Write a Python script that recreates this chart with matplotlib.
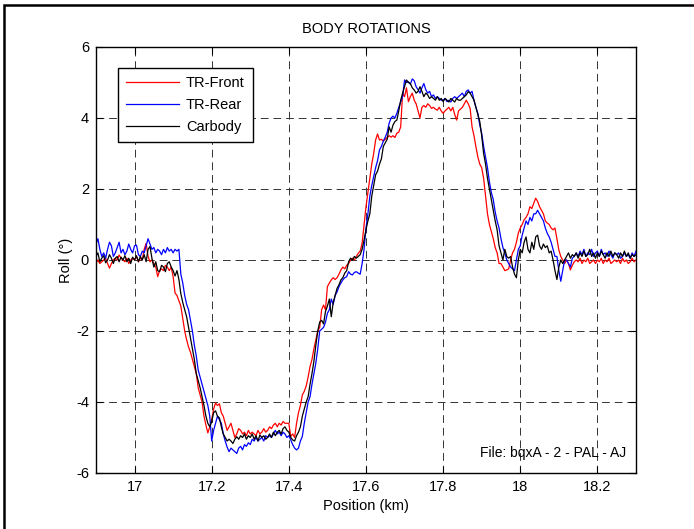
import numpy as np
import matplotlib
matplotlib.use("Agg")
import matplotlib.pyplot as plt
from matplotlib.patches import Rectangle

plt.rcParams['font.family'] = ['Liberation Sans', 'DejaVu Sans']
plt.rcParams['axes.unicode_minus'] = False

# position samples (km), one every 5 m
position = np.linspace(16.9, 18.3, 281)

# roll angles (deg), rows of 10 samples = 50 m
tr_front = [
    -0.1, 0.0, -0.1, -0.05, 0.0, 0.05, -0.1, -0.23, -0.1, 0.0,
    0.05, 0.0, 0.14, 0.05, 0.0, -0.05, 0.05, -0.1, 0.0, 0.05,
    0.0, 0.1, -0.05, 0.05, 0.0, 0.3, 0.47, 0.1, -0.05, 0.0,
    -0.1, -0.2, -0.47, -0.3, -0.25, -0.3, -0.15, -0.2, -0.3, -0.2,
    -0.47, -0.93, -1.0, -1.15, -1.3, -1.65, -2.0, -2.25, -2.45, -2.6,
    -2.8, -3.0, -3.2, -3.6, -3.8, -4.0, -4.4, -4.65, -4.87, -4.7,
    -4.5, -4.2, -4.03, -4.1, -4.05, -4.3, -4.4, -4.6, -4.8, -4.7,
    -4.6, -4.8, -5.0, -4.9, -4.75, -4.8, -4.9, -4.85, -4.95, -4.8,
    -4.9, -4.85, -4.9, -4.95, -4.8, -4.9, -4.85, -4.75, -4.85, -4.8,
    -4.7, -4.75, -4.65, -4.6, -4.7, -4.6, -4.65, -4.55, -4.6, -4.6,
    -4.6, -4.97, -4.9, -5.0, -4.6, -4.3, -4.1, -3.8, -3.7, -3.55,
    -3.3, -3.0, -2.8, -2.5, -2.25, -2.0, -1.9, -1.4, -1.27, -1.4,
    -0.75, -0.65, -0.56, -0.5, -0.55, -0.5, -0.4, -0.28, -0.2, -0.25,
    -0.15, -0.1, 0.0, 0.05, 0.0, 0.1, 0.19, 0.25, 0.47, 1.0,
    1.5, 1.9, 2.3, 2.7, 3.0, 3.38, 3.55, 3.38, 3.4, 3.35,
    3.4, 3.45, 3.5, 3.46, 3.5, 3.45, 3.57, 3.6, 3.75, 4.7,
    4.6, 4.85, 4.46, 4.6, 4.7, 4.5, 4.4, 4.2, 4.0, 4.3,
    4.35, 4.3, 4.4, 4.35, 4.27, 4.3, 4.25, 4.22, 4.3, 4.2,
    4.13, 4.2, 4.25, 4.3, 4.2, 4.3, 4.1, 3.94, 4.2, 4.25,
    4.3, 4.4, 4.5, 4.4, 4.27, 3.75, 3.5, 3.19, 2.9, 2.7,
    2.6, 2.3, 1.8, 1.3, 1.0, 0.8, 0.6, 0.35, 0.2, -0.1,
    -0.1, -0.2, -0.3, -0.28, -0.25, 0.0, 0.2, 0.3, 0.5, 0.76,
    0.9, 1.0, 1.13, 1.2, 1.3, 1.5, 1.45, 1.6, 1.74, 1.65,
    1.5, 1.4, 1.3, 1.1, 1.04, 1.0, 0.9, 0.85, 0.9, 0.6,
    0.28, 0.1, 0.0, -0.1, 0.0, -0.1, -0.28, -0.15, -0.05, 0.0,
    -0.05, 0.05, -0.1, 0.0, -0.05, 0.05, -0.1, -0.05, 0.0, -0.1,
    0.0, -0.05, 0.05, -0.1, 0.0, -0.05, 0.05, -0.1, -0.05, 0.0,
    -0.05, 0.0, -0.1, 0.05, -0.05, 0.0, -0.1, -0.05, 0.05, -0.05,
    0.0,
]

tr_rear = [
    0.45, 0.6, 0.3, 0.1, 0.2, 0.05, 0.3, 0.5, 0.4, 0.1,
    0.2, 0.35, 0.5, 0.2, 0.3, 0.15, 0.25, 0.45, 0.3, 0.2,
    0.4, 0.42, 0.15, 0.1, 0.25, 0.2, 0.4, 0.6, 0.45, 0.3,
    0.35, 0.2, 0.3, 0.25, 0.15, 0.3, 0.2, 0.35, 0.25, 0.3,
    0.2, 0.3, 0.25, 0.3, -0.4, -0.65, -1.0, -1.25, -1.4, -1.7,
    -2.0, -2.4, -2.7, -3.1, -3.3, -3.5, -3.7, -3.9, -4.1, -4.4,
    -5.1, -4.8, -4.6, -4.4, -4.5, -4.6, -4.9, -5.1, -5.27, -5.4,
    -5.3, -5.35, -5.4, -5.45, -5.3, -5.25, -5.35, -5.2, -5.25, -5.15,
    -5.2, -5.05, -5.1, -5.0, -5.1, -5.05, -5.0, -5.1, -4.95, -5.0,
    -4.95, -5.0, -4.9, -4.8, -4.9, -4.85, -4.95, -4.85, -4.9, -5.0,
    -4.95, -5.07, -5.2, -5.3, -5.35, -5.3, -5.1, -4.97, -4.6, -4.3,
    -4.0, -3.85, -3.5, -3.2, -2.9, -2.5, -2.0, -1.95, -1.9, -1.75,
    -1.5, -1.4, -1.1, -1.25, -1.0, -0.9, -0.75, -0.65, -0.56, -0.5,
    -0.47, -0.33, -0.4, -0.42, -0.35, -0.33, -0.37, -0.4, -0.1, 0.3,
    0.9, 1.3, 1.8, 2.1, 2.35, 2.6, 2.8, 3.1, 3.2, 3.35,
    3.46, 3.6, 3.85, 4.0, 4.05, 4.0, 4.13, 4.3, 4.45, 4.6,
    5.07, 5.0, 5.02, 4.95, 5.1, 5.05, 4.88, 4.8, 4.7, 4.85,
    4.97, 4.8, 4.7, 4.75, 4.6, 4.65, 4.55, 4.6, 4.55, 4.5,
    4.5, 4.55, 4.46, 4.5, 4.45, 4.55, 4.6, 4.55, 4.6, 4.65,
    4.7, 4.6, 4.75, 4.79, 4.7, 4.75, 4.5, 4.3, 4.13, 3.8,
    3.57, 3.2, 2.9, 2.6, 2.2, 1.9, 1.7, 1.35, 1.1, 0.9,
    0.6, 0.35, 0.2, 0.0, -0.1, -0.2, -0.25, -0.3, 0.0, 0.3,
    0.4, 0.7, 0.9, 1.1, 1.0, 1.2, 1.1, 1.3, 1.3, 1.4,
    1.3, 1.2, 1.1, 0.9, 0.75, 0.65, 0.5, 0.3, 0.1, 0.1,
    -0.3, -0.6, -0.3, 0.0, 0.0, -0.1, -0.2, 0.05, 0.1, 0.2,
    0.1, 0.25, 0.15, 0.3, 0.1, 0.2, 0.15, 0.3, 0.1, 0.2,
    0.25, 0.1, 0.3, 0.15, 0.2, 0.1, 0.25, 0.15, 0.05, 0.2,
    0.15, 0.2, 0.05, 0.1, 0.2, 0.1, 0.15, 0.05, 0.2, 0.1,
    0.25,
]

carbody = [
    0.1, 0.2, -0.05, 0.05, 0.12, -0.08, 0.0, 0.15, 0.05, -0.1,
    0.05, 0.1, -0.05, 0.08, 0.0, 0.12, -0.05, 0.05, -0.1, 0.08,
    0.0, 0.12, -0.05, 0.1, 0.0, 0.15, -0.05, 0.3, 0.38, 0.05,
    -0.2, -0.05, -0.3, -0.33, -0.15, -0.2, -0.33, -0.1, -0.05, -0.2,
    -0.3, -0.45, -0.3, -0.55, -0.95, -1.2, -1.4, -1.6, -1.9, -2.2,
    -2.5, -2.8, -3.2, -3.4, -3.6, -3.85, -4.1, -4.4, -4.6, -4.7,
    -4.55, -4.3, -4.25, -4.4, -4.45, -4.7, -4.9, -5.0, -5.1, -5.05,
    -5.1, -5.17, -5.05, -4.98, -5.05, -4.95, -5.0, -4.9, -5.05, -4.95,
    -5.0, -4.9, -5.05, -4.95, -5.1, -4.93, -5.0, -4.95, -5.05, -5.0,
    -4.9, -5.0, -4.85, -4.95, -4.85, -4.8, -4.9, -4.75, -4.7, -4.8,
    -4.85, -5.0, -5.07, -5.1, -4.95, -4.85, -4.7, -4.4, -4.2, -4.0,
    -3.85, -3.5, -3.2, -2.85, -2.4, -2.0, -1.75, -1.7, -1.8, -1.45,
    -1.3, -1.1, -1.6, -1.2, -1.0, -0.8, -0.7, -0.56, -0.5, -0.37,
    -0.3, -0.05, 0.05, 0.0, 0.1, 0.05, 0.1, 0.15, 0.3, 0.56,
    0.85, 1.1, 1.3, 1.8, 2.1, 2.4, 2.5, 2.7, 2.85, 3.2,
    3.3, 3.4, 3.75, 3.6, 3.8, 3.9, 3.94, 4.2, 4.5, 4.7,
    4.88, 5.07, 5.0, 4.97, 4.85, 4.79, 4.7, 4.75, 4.88, 4.75,
    4.6, 4.7, 4.65, 4.55, 4.6, 4.55, 4.5, 4.6, 4.5, 4.55,
    4.46, 4.55, 4.5, 4.45, 4.55, 4.5, 4.45, 4.55, 4.5, 4.5,
    4.55, 4.6, 4.65, 4.74, 4.7, 4.6, 4.5, 4.3, 4.1, 3.9,
    3.5, 3.0, 2.7, 2.3, 2.0, 1.7, 1.4, 1.1, 0.85, 0.4,
    0.2, 0.0, 0.3, 0.1, 0.05, 0.1, -0.2, -0.4, -0.5, 0.0,
    0.3, 0.2, 0.5, 0.65, 0.3, 0.2, 0.5, 0.3, 0.65, 0.7,
    0.4, 0.3, 0.45, 0.35, 0.4, 0.2, 0.25, 0.0, -0.3, -0.55,
    -0.2, 0.0, -0.1, 0.0, 0.1, 0.2, 0.05, 0.15, 0.1, 0.2,
    0.05, 0.2, 0.1, 0.25, 0.1, 0.15, 0.3, 0.1, 0.2, 0.05,
    0.2, 0.1, 0.25, 0.15, 0.05, 0.2, 0.1, 0.25, 0.1, 0.2,
    0.15, 0.05, 0.2, 0.1, 0.25, 0.1, 0.2, 0.05, 0.15, 0.1,
    0.15,
]

xticks = [17, 17.2, 17.4, 17.6, 17.8, 18, 18.2]
xtick_labels = ['17', '17.2', '17.4', '17.6', '17.8', '18', '18.2']
yticks = [-6, -4, -2, 0, 2, 4, 6]

fig = plt.figure(figsize=(6.94, 5.29), dpi=100)
ax = fig.add_axes([0.1383, 0.1059, 0.7781, 0.8053])

ax.plot(position, tr_front, color='red', lw=0.9, label='TR-Front')
ax.plot(position, tr_rear, color='blue', lw=0.9, label='TR-Rear')
ax.plot(position, carbody, color='black', lw=0.9, label='Carbody')

ax.set_xlim(16.9, 18.3)
ax.set_ylim(-6, 6)
ax.set_xticks(xticks)
ax.set_xticklabels(xtick_labels)
ax.set_yticks(yticks)
ax.tick_params(direction='in', length=5, width=0.8, top=True, right=True,
               labelsize=10.5, pad=5)
for s in ax.spines.values():
    s.set_linewidth(1.0)

ax.grid(True, color='0.2', linestyle=(0, (8, 5)), linewidth=0.7)

ax.set_title('BODY ROTATIONS', fontsize=10.5, pad=10)
ax.set_xlabel('Position (km)', fontsize=10.5, labelpad=4)
ax.set_ylabel('Roll (°)', fontsize=10.5, labelpad=2)

leg = ax.legend(loc='upper left', bbox_to_anchor=(0.041, 0.951), borderaxespad=0,
                fontsize=10.5, fancybox=False, edgecolor='black', framealpha=1,
                handlelength=3.6, labelspacing=0.55, borderpad=0.55, handletextpad=0.5)
leg.get_frame().set_linewidth(1.0)

ax.text(0.981, 0.047, 'File: bqxA - 2 - PAL - AJ', transform=ax.transAxes,
        ha='right', va='center', fontsize=10)

# outer frame around the figure (right and bottom edges fall outside)
fig.patches.append(Rectangle((4 / 694, -0.1), 1.2, 1 - 5 / 529 + 0.1,
                             transform=fig.transFigure, fill=False,
                             edgecolor='black', linewidth=1.8))

fig.savefig('out.png', dpi=100)
